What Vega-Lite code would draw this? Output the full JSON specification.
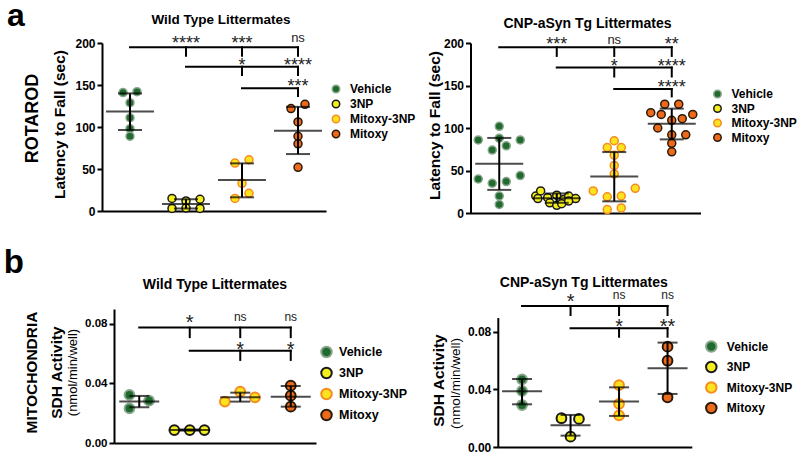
{
  "$schema": "https://vega.github.io/schema/vega-lite/v6.json",
  "padding": {"left": 3, "right": 0, "top": 0, "bottom": 0},
  "config": {
    "font": "Liberation Sans",
    "view": {"stroke": null},
    "axis": {"domainColor": "black", "domainWidth": 2, "tickColor": "black", "tickWidth": 2, "tickSize": 5, "labelColor": "black", "labelFont": "Liberation Sans", "labelFontWeight": "bold", "titleColor": "black", "titleFont": "Liberation Sans", "titleFontWeight": "bold", "grid": false, "labelPadding": 2},
    "title": {"font": "Liberation Sans", "fontWeight": "bold", "color": "black", "fontSize": 14},
    "legend": {"labelFont": "Liberation Sans", "labelFontWeight": "bold", "labelColor": "black"}
  },
  "datasets": {
    "aL_pts": [
      {"group": "Vehicle", "value": 141, "lane": -1}, {"group": "Vehicle", "value": 142, "lane": 1}, {"group": "Vehicle", "value": 129, "lane": 0}, {"group": "Vehicle", "value": 111, "lane": 0}, {"group": "Vehicle", "value": 98, "lane": 0}, {"group": "Vehicle", "value": 89, "lane": 0},
      {"group": "3NP", "value": 15, "lane": -2}, {"group": "3NP", "value": 12, "lane": 0}, {"group": "3NP", "value": 14, "lane": 2}, {"group": "3NP", "value": 3, "lane": -2}, {"group": "3NP", "value": 3.5, "lane": 0}, {"group": "3NP", "value": 3, "lane": 2},
      {"group": "Mitoxy-3NP", "value": 57, "lane": -1}, {"group": "Mitoxy-3NP", "value": 61, "lane": 1}, {"group": "Mitoxy-3NP", "value": 33, "lane": 0}, {"group": "Mitoxy-3NP", "value": 21, "lane": 1}, {"group": "Mitoxy-3NP", "value": 15, "lane": -1},
      {"group": "Mitoxy", "value": 122, "lane": -1}, {"group": "Mitoxy", "value": 127, "lane": 1}, {"group": "Mitoxy", "value": 106, "lane": 0}, {"group": "Mitoxy", "value": 89, "lane": 0}, {"group": "Mitoxy", "value": 80, "lane": 0}, {"group": "Mitoxy", "value": 52, "lane": 0}
    ],
    "aL_sum": [
      {"group": "Vehicle", "mean": 118.6, "lo": 96.4, "hi": 140},
      {"group": "3NP", "mean": 8.3, "lo": 3, "hi": 14},
      {"group": "Mitoxy-3NP", "mean": 36.9, "lo": 16.3, "hi": 56.7},
      {"group": "Mitoxy", "mean": 95.6, "lo": 67.8, "hi": 124}
    ],
    "aL_br": [
      {"g1": "Vehicle", "g2": "Mitoxy", "v1": 194.8, "v2": 194.8},
      {"g1": "3NP", "g2": "3NP", "v1": 194.8, "v2": 184.8},
      {"g1": "Mitoxy-3NP", "g2": "Mitoxy-3NP", "v1": 194.8, "v2": 184.8},
      {"g1": "Mitoxy", "g2": "Mitoxy", "v1": 194.8, "v2": 184.8},
      {"g1": "3NP", "g2": "Mitoxy", "v1": 171.8, "v2": 171.8},
      {"g1": "Mitoxy-3NP", "g2": "Mitoxy-3NP", "v1": 171.8, "v2": 161.8},
      {"g1": "Mitoxy", "g2": "Mitoxy", "v1": 171.8, "v2": 161.8},
      {"g1": "Mitoxy-3NP", "g2": "Mitoxy", "v1": 146, "v2": 146},
      {"g1": "Mitoxy", "g2": "Mitoxy", "v1": 146, "v2": 137}
    ],
    "aL_lab": [
      {"group": "3NP", "y": 204.7, "label": "****"},
      {"group": "Mitoxy-3NP", "y": 204.7, "label": "***"},
      {"group": "Mitoxy", "y": 205, "label": "ns"},
      {"group": "Mitoxy-3NP", "y": 178.2, "label": "*"},
      {"group": "Mitoxy", "y": 178.2, "label": "****"},
      {"group": "Mitoxy", "y": 153.2, "label": "***"}
    ],
    "aR_pts": [
      {"group": "Vehicle", "value": 102, "lane": 0}, {"group": "Vehicle", "value": 88, "lane": 0}, {"group": "Vehicle", "value": 86, "lane": -3}, {"group": "Vehicle", "value": 86, "lane": 3}, {"group": "Vehicle", "value": 74, "lane": -1}, {"group": "Vehicle", "value": 79, "lane": 1}, {"group": "Vehicle", "value": 40, "lane": -3}, {"group": "Vehicle", "value": 44, "lane": 3}, {"group": "Vehicle", "value": 35, "lane": -1}, {"group": "Vehicle", "value": 37, "lane": 1}, {"group": "Vehicle", "value": 20, "lane": 0}, {"group": "Vehicle", "value": 10, "lane": 0},
      {"group": "3NP", "value": 20, "lane": -3}, {"group": "3NP", "value": 26, "lane": -2.3}, {"group": "3NP", "value": 18, "lane": -1.3}, {"group": "3NP", "value": 21, "lane": 0}, {"group": "3NP", "value": 16, "lane": 1}, {"group": "3NP", "value": 20, "lane": 1.7}, {"group": "3NP", "value": 17, "lane": 2.7}, {"group": "3NP", "value": 12, "lane": -1}, {"group": "3NP", "value": 9, "lane": 0}, {"group": "3NP", "value": 11, "lane": 0.7}, {"group": "3NP", "value": 14, "lane": 1.7}, {"group": "3NP", "value": 17, "lane": -2.7},
      {"group": "Mitoxy-3NP", "value": 77, "lane": -1}, {"group": "Mitoxy-3NP", "value": 85, "lane": 0}, {"group": "Mitoxy-3NP", "value": 77, "lane": 1}, {"group": "Mitoxy-3NP", "value": 68, "lane": 0}, {"group": "Mitoxy-3NP", "value": 56, "lane": 0}, {"group": "Mitoxy-3NP", "value": 46, "lane": 0}, {"group": "Mitoxy-3NP", "value": 26, "lane": -3}, {"group": "Mitoxy-3NP", "value": 29, "lane": 3}, {"group": "Mitoxy-3NP", "value": 19, "lane": -1}, {"group": "Mitoxy-3NP", "value": 20, "lane": 1}, {"group": "Mitoxy-3NP", "value": 4, "lane": -1}, {"group": "Mitoxy-3NP", "value": 6, "lane": 1},
      {"group": "Mitoxy", "value": 128, "lane": -1}, {"group": "Mitoxy", "value": 128, "lane": 1}, {"group": "Mitoxy", "value": 118, "lane": -3}, {"group": "Mitoxy", "value": 116, "lane": -1.5}, {"group": "Mitoxy", "value": 109, "lane": 0}, {"group": "Mitoxy", "value": 111, "lane": 1.5}, {"group": "Mitoxy", "value": 116, "lane": 3}, {"group": "Mitoxy", "value": 100, "lane": -2}, {"group": "Mitoxy", "value": 92, "lane": 0}, {"group": "Mitoxy", "value": 92, "lane": 2}, {"group": "Mitoxy", "value": 82, "lane": 0}, {"group": "Mitoxy", "value": 72, "lane": 0}
    ],
    "aR_sum": [
      {"group": "Vehicle", "mean": 58, "lo": 27.2, "hi": 88.3},
      {"group": "3NP", "mean": 17.5, "lo": 12, "hi": 23},
      {"group": "Mitoxy-3NP", "mean": 42.9, "lo": 13.7, "hi": 71.7},
      {"group": "Mitoxy", "mean": 104.9, "lo": 86.6, "hi": 122.8}
    ],
    "aR_br": [
      {"g1": "Vehicle", "g2": "Mitoxy", "v1": 195, "v2": 195},
      {"g1": "3NP", "g2": "3NP", "v1": 195, "v2": 184.8},
      {"g1": "Mitoxy-3NP", "g2": "Mitoxy-3NP", "v1": 195, "v2": 184.8},
      {"g1": "Mitoxy", "g2": "Mitoxy", "v1": 195, "v2": 184.8},
      {"g1": "3NP", "g2": "Mitoxy", "v1": 171.1, "v2": 171.1},
      {"g1": "Mitoxy-3NP", "g2": "Mitoxy-3NP", "v1": 171.1, "v2": 160.6},
      {"g1": "Mitoxy", "g2": "Mitoxy", "v1": 171.1, "v2": 160.6},
      {"g1": "Mitoxy-3NP", "g2": "Mitoxy", "v1": 145.9, "v2": 145.9},
      {"g1": "Mitoxy", "g2": "Mitoxy", "v1": 145.9, "v2": 137.2}
    ],
    "aR_lab": [
      {"group": "3NP", "y": 204, "label": "***"},
      {"group": "Mitoxy-3NP", "y": 203.5, "label": "ns"},
      {"group": "Mitoxy", "y": 204, "label": "**"},
      {"group": "Mitoxy-3NP", "y": 178, "label": "*"},
      {"group": "Mitoxy", "y": 178, "label": "****"},
      {"group": "Mitoxy", "y": 153.5, "label": "****"}
    ],
    "bL_pts": [
      {"group": "Vehicle", "value": 0.0323, "lane": -1.4}, {"group": "Vehicle", "value": 0.0284, "lane": 1.4}, {"group": "Vehicle", "value": 0.0233, "lane": -1.4},
      {"group": "3NP", "value": 0.0087, "lane": -2.2}, {"group": "3NP", "value": 0.0087, "lane": 0}, {"group": "3NP", "value": 0.0087, "lane": 2.1},
      {"group": "Mitoxy-3NP", "value": 0.0278, "lane": -2.2}, {"group": "Mitoxy-3NP", "value": 0.0345, "lane": 0}, {"group": "Mitoxy-3NP", "value": 0.0307, "lane": 2.1},
      {"group": "Mitoxy", "value": 0.0385, "lane": 0}, {"group": "Mitoxy", "value": 0.0318, "lane": 0}, {"group": "Mitoxy", "value": 0.0244, "lane": 0}
    ],
    "bL_sum": [
      {"group": "Vehicle", "mean": 0.0278, "lo": 0.024, "hi": 0.0316},
      {"group": "3NP", "mean": 0.0087, "lo": 0.0083, "hi": 0.0091},
      {"group": "Mitoxy-3NP", "mean": 0.0307, "lo": 0.0278, "hi": 0.0338},
      {"group": "Mitoxy", "mean": 0.0311, "lo": 0.0244, "hi": 0.0383}
    ],
    "bL_br": [
      {"g1": "Vehicle", "g2": "Mitoxy", "v1": 0.0775, "v2": 0.0775},
      {"g1": "3NP", "g2": "3NP", "v1": 0.0775, "v2": 0.0711},
      {"g1": "Mitoxy-3NP", "g2": "Mitoxy-3NP", "v1": 0.0775, "v2": 0.0711},
      {"g1": "Mitoxy", "g2": "Mitoxy", "v1": 0.0775, "v2": 0.0711},
      {"g1": "3NP", "g2": "Mitoxy", "v1": 0.062, "v2": 0.062},
      {"g1": "Mitoxy-3NP", "g2": "Mitoxy-3NP", "v1": 0.062, "v2": 0.0558},
      {"g1": "Mitoxy", "g2": "Mitoxy", "v1": 0.062, "v2": 0.0558}
    ],
    "bL_lab": [
      {"group": "3NP", "y": 0.0842, "label": "*"},
      {"group": "Mitoxy-3NP", "y": 0.0842, "label": "ns"},
      {"group": "Mitoxy", "y": 0.0842, "label": "ns"},
      {"group": "Mitoxy-3NP", "y": 0.0659, "label": "*"},
      {"group": "Mitoxy", "y": 0.0659, "label": "*"}
    ],
    "bR_pts": [
      {"group": "Vehicle", "value": 0.0471, "lane": 0}, {"group": "Vehicle", "value": 0.039, "lane": 0}, {"group": "Vehicle", "value": 0.0292, "lane": 0},
      {"group": "3NP", "value": 0.02, "lane": -1.3}, {"group": "3NP", "value": 0.0195, "lane": 1.2}, {"group": "3NP", "value": 0.0072, "lane": 0},
      {"group": "Mitoxy-3NP", "value": 0.043, "lane": 0}, {"group": "Mitoxy-3NP", "value": 0.03, "lane": 0}, {"group": "Mitoxy-3NP", "value": 0.022, "lane": 0},
      {"group": "Mitoxy", "value": 0.0698, "lane": 0}, {"group": "Mitoxy", "value": 0.06, "lane": 0}, {"group": "Mitoxy", "value": 0.0346, "lane": 0}
    ],
    "bR_sum": [
      {"group": "Vehicle", "mean": 0.0387, "lo": 0.0297, "hi": 0.0473},
      {"group": "3NP", "mean": 0.0151, "lo": 0.0079, "hi": 0.0223},
      {"group": "Mitoxy-3NP", "mean": 0.0317, "lo": 0.0216, "hi": 0.0415},
      {"group": "Mitoxy", "mean": 0.0547, "lo": 0.0369, "hi": 0.0726}
    ],
    "bR_br": [
      {"g1": "Vehicle", "g2": "Mitoxy", "v1": 0.0981, "v2": 0.0981},
      {"g1": "3NP", "g2": "3NP", "v1": 0.0981, "v2": 0.0918},
      {"g1": "Mitoxy-3NP", "g2": "Mitoxy-3NP", "v1": 0.0981, "v2": 0.0918},
      {"g1": "Mitoxy", "g2": "Mitoxy", "v1": 0.0981, "v2": 0.0918},
      {"g1": "3NP", "g2": "Mitoxy", "v1": 0.0826, "v2": 0.0826},
      {"g1": "Mitoxy-3NP", "g2": "Mitoxy-3NP", "v1": 0.0826, "v2": 0.0767},
      {"g1": "Mitoxy", "g2": "Mitoxy", "v1": 0.0826, "v2": 0.0767}
    ],
    "bR_lab": [
      {"group": "3NP", "y": 0.105, "label": "*"},
      {"group": "Mitoxy-3NP", "y": 0.1055, "label": "ns"},
      {"group": "Mitoxy", "y": 0.1055, "label": "ns"},
      {"group": "Mitoxy-3NP", "y": 0.0872, "label": "*"},
      {"group": "Mitoxy", "y": 0.0872, "label": "**"}
    ]
  },
  "resolve": {"scale": {"fill": "independent", "stroke": "independent"}, "legend": {"fill": "independent", "stroke": "independent"}},
  "spacing": 28,
  "vconcat": [
    {
      "title": {"text": "a", "orient": "left", "anchor": "end", "frame": "bounds", "angle": 0, "align": "right", "baseline": "alphabetic", "fontSize": 32, "offset": -5, "dy": 13.6, "dx": 14},
      "resolve": {"scale": {"fill": "independent", "stroke": "independent"}, "legend": {"fill": "independent", "stroke": "independent"}},
      "spacing": 11.5,
      "hconcat": [
        {
          "title": {"text": "Wild Type Littermates", "fontSize": 13.5, "offset": 6, "frame": "group", "dx": 7},
          "width": 224, "height": 168,
          "layer": [
            {
              "data": {"name": "aL_pts"},
              "mark": {"type": "circle", "size": 64, "strokeWidth": 1.5, "opacity": 1},
              "encoding": {
                "x": {"field": "group", "type": "nominal", "scale": {"type": "point", "padding": 0.5, "domain": ["Vehicle", "3NP", "Mitoxy-3NP", "Mitoxy"]}, "axis": {"labels": false, "ticks": false, "title": "ROTAROD", "titleFontSize": 18, "titleAngle": -90, "titleAlign": "center", "titleBaseline": "alphabetic", "titleX": -64.5, "titleY": -93}},
                "xOffset": {"field": "lane", "type": "quantitative", "scale": {"domain": [-4, 4], "range": [-28, 28]}},
                "y": {"field": "value", "type": "quantitative", "scale": {"domain": [0, 200], "nice": false}, "axis": {"title": "Latency to Fall (sec)", "values": [0, 50, 100, 150, 200], "labelFontSize": 12, "titleFontSize": 15.5, "titleAngle": -90, "titleAlign": "center", "titleBaseline": "alphabetic", "titleX": -38, "titleY": 81}},
                "fill": {"field": "group", "type": "nominal", "scale": {"domain": ["Vehicle", "3NP", "Mitoxy-3NP", "Mitoxy"], "range": ["#1f6a2c", "#f4ee1c", "#fbe41f", "#ee6a1a"]}, "legend": {"orient": "none", "legendX": 228, "legendY": 40, "title": null, "labelFontSize": 12, "symbolSize": 55, "symbolStrokeWidth": 1.5, "rowPadding": 1, "labelOffset": 8, "padding": 0, "symbolType": "circle"}},
                "stroke": {"field": "group", "type": "nominal", "scale": {"domain": ["Vehicle", "3NP", "Mitoxy-3NP", "Mitoxy"], "range": ["#86a58b", "#1a1a1a", "#f68b1f", "#2a1a0a"]}, "legend": {"orient": "none", "legendX": 228, "legendY": 40, "title": null, "labelFontSize": 12, "symbolSize": 55, "symbolStrokeWidth": 1.5, "rowPadding": 1, "labelOffset": 8, "padding": 0, "symbolType": "circle"}}
              }
            },
            {"data": {"name": "aL_sum"}, "mark": {"type": "rule", "strokeWidth": 2, "color": "black"}, "encoding": {"x": {"field": "group", "type": "nominal"}, "y": {"field": "lo", "type": "quantitative"}, "y2": {"field": "hi"}}},
            {"data": {"name": "aL_sum"}, "mark": {"type": "tick", "size": 48, "thickness": 2, "color": "black"}, "encoding": {"x": {"field": "group", "type": "nominal"}, "y": {"field": "mean", "type": "quantitative"}}},
            {"data": {"name": "aL_sum"}, "mark": {"type": "tick", "size": 24, "thickness": 2, "color": "black"}, "encoding": {"x": {"field": "group", "type": "nominal"}, "y": {"field": "lo", "type": "quantitative"}}},
            {"data": {"name": "aL_sum"}, "mark": {"type": "tick", "size": 24, "thickness": 2, "color": "black"}, "encoding": {"x": {"field": "group", "type": "nominal"}, "y": {"field": "hi", "type": "quantitative"}}},
            {"data": {"name": "aL_br"}, "mark": {"type": "rule", "strokeWidth": 2, "color": "black", "strokeCap": "square"}, "encoding": {"x": {"field": "g1", "type": "nominal"}, "x2": {"field": "g2"}, "y": {"field": "v1", "type": "quantitative"}, "y2": {"field": "v2"}}},
            {"data": {"name": "aL_lab"}, "transform": [{"filter": "datum.label != 'ns'"}], "mark": {"type": "text", "fontSize": 18, "baseline": "alphabetic", "dy": 10, "color": "#222"}, "encoding": {"x": {"field": "group", "type": "nominal"}, "y": {"field": "y", "type": "quantitative"}, "text": {"field": "label"}}},
            {"data": {"name": "aL_lab"}, "transform": [{"filter": "datum.label == 'ns'"}], "mark": {"type": "text", "fontSize": 13, "baseline": "alphabetic", "dy": 3.5, "color": "#222"}, "encoding": {"x": {"field": "group", "type": "nominal"}, "y": {"field": "y", "type": "quantitative"}, "text": {"field": "label"}}}
          ]
        },
        {
          "title": {"text": "CNP-aSyn Tg Littermates", "fontSize": 14, "offset": 3, "frame": "group", "dx": 2},
          "width": 230, "height": 170,
          "layer": [
            {
              "data": {"name": "aR_pts"},
              "mark": {"type": "circle", "size": 64, "strokeWidth": 1.5, "opacity": 1},
              "encoding": {
                "x": {"field": "group", "type": "nominal", "scale": {"type": "point", "padding": 0.5, "domain": ["Vehicle", "3NP", "Mitoxy-3NP", "Mitoxy"]}, "axis": {"labels": false, "ticks": false, "title": null}},
                "xOffset": {"field": "lane", "type": "quantitative", "scale": {"domain": [-4, 4], "range": [-28, 28]}},
                "y": {"field": "value", "type": "quantitative", "scale": {"domain": [0, 200], "nice": false}, "axis": {"title": "Latency to Fall (sec)", "values": [0, 50, 100, 150, 200], "labelFontSize": 12, "titleFontSize": 15.5, "titleAngle": -90, "titleAlign": "center", "titleBaseline": "alphabetic", "titleX": -31, "titleY": 82}},
                "fill": {"field": "group", "type": "nominal", "scale": {"domain": ["Vehicle", "3NP", "Mitoxy-3NP", "Mitoxy"], "range": ["#1f6a2c", "#f4ee1c", "#fbe41f", "#ee6a1a"]}, "legend": {"orient": "none", "legendX": 241, "legendY": 45, "title": null, "labelFontSize": 12, "symbolSize": 55, "symbolStrokeWidth": 1.5, "rowPadding": 0.5, "labelOffset": 8, "padding": 0, "symbolType": "circle"}},
                "stroke": {"field": "group", "type": "nominal", "scale": {"domain": ["Vehicle", "3NP", "Mitoxy-3NP", "Mitoxy"], "range": ["#86a58b", "#1a1a1a", "#f68b1f", "#2a1a0a"]}, "legend": {"orient": "none", "legendX": 241, "legendY": 45, "title": null, "labelFontSize": 12, "symbolSize": 55, "symbolStrokeWidth": 1.5, "rowPadding": 0.5, "labelOffset": 8, "padding": 0, "symbolType": "circle"}}
              }
            },
            {"data": {"name": "aR_sum"}, "mark": {"type": "rule", "strokeWidth": 2, "color": "black"}, "encoding": {"x": {"field": "group", "type": "nominal"}, "y": {"field": "lo", "type": "quantitative"}, "y2": {"field": "hi"}}},
            {"data": {"name": "aR_sum"}, "mark": {"type": "tick", "size": 48, "thickness": 2, "color": "black"}, "encoding": {"x": {"field": "group", "type": "nominal"}, "y": {"field": "mean", "type": "quantitative"}}},
            {"data": {"name": "aR_sum"}, "mark": {"type": "tick", "size": 24, "thickness": 2, "color": "black"}, "encoding": {"x": {"field": "group", "type": "nominal"}, "y": {"field": "lo", "type": "quantitative"}}},
            {"data": {"name": "aR_sum"}, "mark": {"type": "tick", "size": 24, "thickness": 2, "color": "black"}, "encoding": {"x": {"field": "group", "type": "nominal"}, "y": {"field": "hi", "type": "quantitative"}}},
            {"data": {"name": "aR_br"}, "mark": {"type": "rule", "strokeWidth": 2, "color": "black", "strokeCap": "square"}, "encoding": {"x": {"field": "g1", "type": "nominal"}, "x2": {"field": "g2"}, "y": {"field": "v1", "type": "quantitative"}, "y2": {"field": "v2"}}},
            {"data": {"name": "aR_lab"}, "transform": [{"filter": "datum.label != 'ns'"}], "mark": {"type": "text", "fontSize": 18, "baseline": "alphabetic", "dy": 10, "color": "#222"}, "encoding": {"x": {"field": "group", "type": "nominal"}, "y": {"field": "y", "type": "quantitative"}, "text": {"field": "label"}}},
            {"data": {"name": "aR_lab"}, "transform": [{"filter": "datum.label == 'ns'"}], "mark": {"type": "text", "fontSize": 13, "baseline": "alphabetic", "dy": 3.5, "color": "#222"}, "encoding": {"x": {"field": "group", "type": "nominal"}, "y": {"field": "y", "type": "quantitative"}, "text": {"field": "label"}}}
          ]
        }
      ]
    },
    {
      "title": {"text": "b", "orient": "left", "anchor": "end", "frame": "bounds", "angle": 0, "align": "right", "baseline": "alphabetic", "fontSize": 33, "offset": -3, "dy": -3, "dx": 17},
      "resolve": {"scale": {"fill": "independent", "stroke": "independent"}, "legend": {"fill": "independent", "stroke": "independent"}},
      "spacing": 23.8,
      "hconcat": [
        {
          "title": {"text": "Wild Type Littermates", "fontSize": 14, "offset": 17, "frame": "group", "dx": 6},
          "width": 214, "height": 134,
          "layer": [
            {
              "data": {"name": "bL_pts"},
              "mark": {"type": "circle", "size": 95, "strokeWidth": 2, "opacity": 1},
              "encoding": {
                "x": {"field": "group", "type": "nominal", "scale": {"type": "point", "padding": 0.5, "domain": ["Vehicle", "3NP", "Mitoxy-3NP", "Mitoxy"], "range": [12, 214]}, "axis": {"labels": false, "ticks": false, "title": ["MITOCHONDRIA", "SDH Activity"], "titleFontSize": 15.5, "titleLineHeight": 25, "titleAngle": -90, "titleAlign": "center", "titleBaseline": "alphabetic", "titleX": -66, "titleY": -71}},
                "xOffset": {"field": "lane", "type": "quantitative", "scale": {"domain": [-4, 4], "range": [-28, 28]}},
                "y": {"field": "value", "type": "quantitative", "scale": {"domain": [0, 0.09], "nice": false}, "axis": {"offset": -12, "title": "(nmol/min/well)", "titleFontWeight": "normal", "titleFontSize": 13, "values": [0, 0.02, 0.04, 0.06, 0.08], "format": ".2f", "labelFontSize": 11.5, "titleAngle": -90, "titleAlign": "center", "titleBaseline": "alphabetic", "titleX": -38, "titleY": 63}},
                "fill": {"field": "group", "type": "nominal", "scale": {"domain": ["Vehicle", "3NP", "Mitoxy-3NP", "Mitoxy"], "range": ["#1f6a2c", "#f4ee1c", "#fbe41f", "#ee6a1a"]}, "legend": {"orient": "none", "legendX": 218, "legendY": 36.5, "title": null, "labelFontSize": 12.5, "symbolSize": 110, "symbolStrokeWidth": 2, "rowPadding": 2, "labelOffset": 6, "padding": 0, "symbolType": "circle"}},
                "stroke": {"field": "group", "type": "nominal", "scale": {"domain": ["Vehicle", "3NP", "Mitoxy-3NP", "Mitoxy"], "range": ["#86a58b", "#1a1a1a", "#f68b1f", "#2a1a0a"]}, "legend": {"orient": "none", "legendX": 218, "legendY": 36.5, "title": null, "labelFontSize": 12.5, "symbolSize": 110, "symbolStrokeWidth": 2, "rowPadding": 2, "labelOffset": 6, "padding": 0, "symbolType": "circle"}}
              }
            },
            {"data": {"name": "bL_sum"}, "mark": {"type": "rule", "strokeWidth": 2, "color": "black"}, "encoding": {"x": {"field": "group", "type": "nominal"}, "y": {"field": "lo", "type": "quantitative"}, "y2": {"field": "hi"}}},
            {"data": {"name": "bL_sum"}, "mark": {"type": "tick", "size": 40, "thickness": 2, "color": "black"}, "encoding": {"x": {"field": "group", "type": "nominal"}, "y": {"field": "mean", "type": "quantitative"}}},
            {"data": {"name": "bL_sum"}, "mark": {"type": "tick", "size": 20, "thickness": 2, "color": "black"}, "encoding": {"x": {"field": "group", "type": "nominal"}, "y": {"field": "lo", "type": "quantitative"}}},
            {"data": {"name": "bL_sum"}, "mark": {"type": "tick", "size": 20, "thickness": 2, "color": "black"}, "encoding": {"x": {"field": "group", "type": "nominal"}, "y": {"field": "hi", "type": "quantitative"}}},
            {"data": {"name": "bL_br"}, "mark": {"type": "rule", "strokeWidth": 2, "color": "black", "strokeCap": "square"}, "encoding": {"x": {"field": "g1", "type": "nominal"}, "x2": {"field": "g2"}, "y": {"field": "v1", "type": "quantitative"}, "y2": {"field": "v2"}}},
            {"data": {"name": "bL_lab"}, "transform": [{"filter": "datum.label != 'ns'"}], "mark": {"type": "text", "fontSize": 20, "baseline": "alphabetic", "dy": 11.5, "color": "#222"}, "encoding": {"x": {"field": "group", "type": "nominal"}, "y": {"field": "y", "type": "quantitative"}, "text": {"field": "label"}}},
            {"data": {"name": "bL_lab"}, "transform": [{"filter": "datum.label == 'ns'"}], "mark": {"type": "text", "fontSize": 12, "baseline": "alphabetic", "dy": 3.5, "color": "#222"}, "encoding": {"x": {"field": "group", "type": "nominal"}, "y": {"field": "y", "type": "quantitative"}, "text": {"field": "label"}}}
          ]
        },
        {
          "title": {"text": "CNP-aSyn Tg Littermates", "fontSize": 14, "offset": -1.5, "frame": "group", "dx": -11},
          "width": 194, "height": 138,
          "layer": [
            {
              "data": {"name": "bR_pts"},
              "mark": {"type": "circle", "size": 95, "strokeWidth": 2, "opacity": 1},
              "encoding": {
                "x": {"field": "group", "type": "nominal", "scale": {"type": "point", "padding": 0.5, "domain": ["Vehicle", "3NP", "Mitoxy-3NP", "Mitoxy"]}, "axis": {"labels": false, "ticks": false, "title": "SDH Activity", "titleFontSize": 15.5, "titleAngle": -90, "titleAlign": "center", "titleBaseline": "alphabetic", "titleX": -54, "titleY": -67}},
                "xOffset": {"field": "lane", "type": "quantitative", "scale": {"domain": [-4, 4], "range": [-28, 28]}},
                "y": {"field": "value", "type": "quantitative", "scale": {"domain": [0, 0.09], "nice": false, "range": [138, 8.6]}, "axis": {"title": "(nmol/min/well)", "titleFontWeight": "normal", "titleFontSize": 13.5, "values": [0, 0.02, 0.04, 0.06, 0.08], "format": ".2f", "labelFontSize": 12, "titleAngle": -90, "titleAlign": "center", "titleBaseline": "alphabetic", "titleX": -38.5, "titleY": 74}},
                "fill": {"field": "group", "type": "nominal", "scale": {"domain": ["Vehicle", "3NP", "Mitoxy-3NP", "Mitoxy"], "range": ["#1f6a2c", "#f4ee1c", "#fbe41f", "#ee6a1a"]}, "legend": {"orient": "none", "legendX": 207, "legendY": 31, "title": null, "labelFontSize": 12, "symbolSize": 110, "symbolStrokeWidth": 2, "rowPadding": 1.5, "labelOffset": 9, "padding": 0, "symbolType": "circle"}},
                "stroke": {"field": "group", "type": "nominal", "scale": {"domain": ["Vehicle", "3NP", "Mitoxy-3NP", "Mitoxy"], "range": ["#86a58b", "#1a1a1a", "#f68b1f", "#2a1a0a"]}, "legend": {"orient": "none", "legendX": 207, "legendY": 31, "title": null, "labelFontSize": 12, "symbolSize": 110, "symbolStrokeWidth": 2, "rowPadding": 1.5, "labelOffset": 9, "padding": 0, "symbolType": "circle"}}
              }
            },
            {"data": {"name": "bR_sum"}, "mark": {"type": "rule", "strokeWidth": 2, "color": "black"}, "encoding": {"x": {"field": "group", "type": "nominal"}, "y": {"field": "lo", "type": "quantitative"}, "y2": {"field": "hi"}}},
            {"data": {"name": "bR_sum"}, "mark": {"type": "tick", "size": 40, "thickness": 2, "color": "black"}, "encoding": {"x": {"field": "group", "type": "nominal"}, "y": {"field": "mean", "type": "quantitative"}}},
            {"data": {"name": "bR_sum"}, "mark": {"type": "tick", "size": 20, "thickness": 2, "color": "black"}, "encoding": {"x": {"field": "group", "type": "nominal"}, "y": {"field": "lo", "type": "quantitative"}}},
            {"data": {"name": "bR_sum"}, "mark": {"type": "tick", "size": 20, "thickness": 2, "color": "black"}, "encoding": {"x": {"field": "group", "type": "nominal"}, "y": {"field": "hi", "type": "quantitative"}}},
            {"data": {"name": "bR_br"}, "mark": {"type": "rule", "strokeWidth": 2, "color": "black", "strokeCap": "square"}, "encoding": {"x": {"field": "g1", "type": "nominal"}, "x2": {"field": "g2"}, "y": {"field": "v1", "type": "quantitative"}, "y2": {"field": "v2"}}},
            {"data": {"name": "bR_lab"}, "transform": [{"filter": "datum.label != 'ns'"}], "mark": {"type": "text", "fontSize": 20, "baseline": "alphabetic", "dy": 11.5, "color": "#222"}, "encoding": {"x": {"field": "group", "type": "nominal"}, "y": {"field": "y", "type": "quantitative"}, "text": {"field": "label"}}},
            {"data": {"name": "bR_lab"}, "transform": [{"filter": "datum.label == 'ns'"}], "mark": {"type": "text", "fontSize": 12, "baseline": "alphabetic", "dy": 3.5, "color": "#222"}, "encoding": {"x": {"field": "group", "type": "nominal"}, "y": {"field": "y", "type": "quantitative"}, "text": {"field": "label"}}}
          ]
        }
      ]
    }
  ]
}
